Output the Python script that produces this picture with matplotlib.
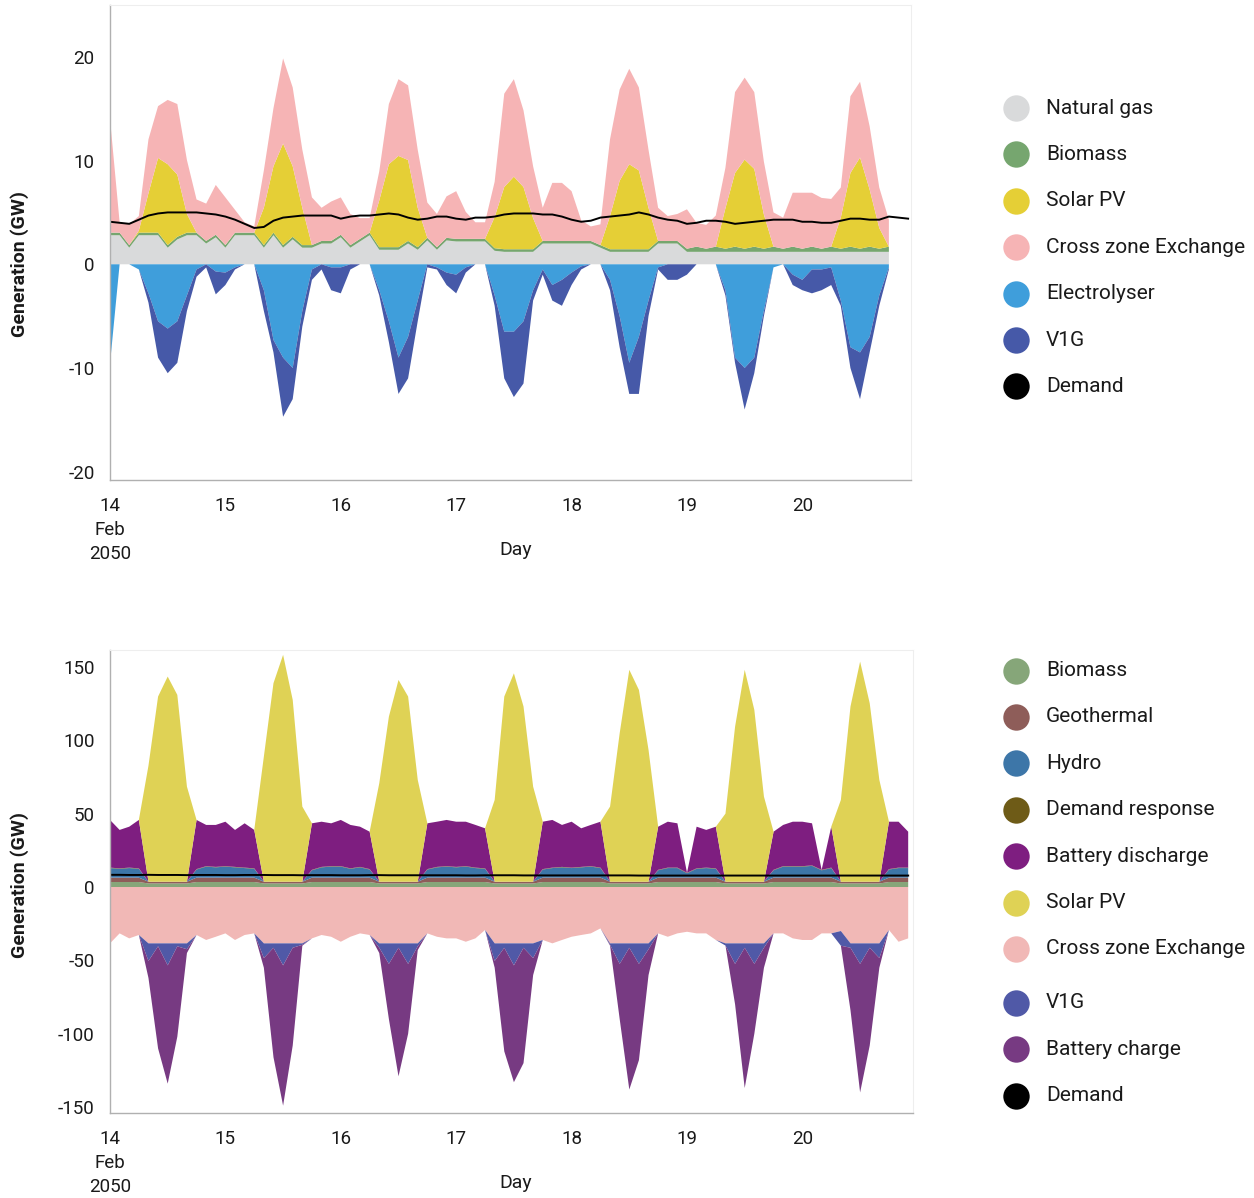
import numpy as np
import matplotlib
matplotlib.use("Agg")
import matplotlib.pyplot as plt
from matplotlib.lines import Line2D

plt.rcParams['font.family'] = ['Roboto', 'DejaVu Sans']
plt.rcParams['axes.unicode_minus'] = False

# ---------------- DATA (hours since 14 Feb 2050 00:00) ----------------
day_ticks = [0, 24, 48, 72, 96, 120, 144]
day_labels = ["14\nFeb\n2050", "15", "16", "17", "18", "19", "20"]

# ---- Top panel ----
hours_top = list(range(0, 163, 2))
hours_demand = list(range(0, 167, 2))

gas_top = [2.8, 2.8, 1.6, 2.8, 2.8, 2.8, 1.6, 2.4, 2.8, 2.8,
           2.0, 2.6, 1.6, 2.8, 2.8, 2.8, 1.6, 2.8, 1.6, 2.4,
           1.6, 1.6, 2.0, 2.0, 2.6, 1.6, 2.2, 2.8, 1.4, 1.4,
           1.4, 2.0, 1.4, 2.3, 1.4, 2.3, 2.2, 2.2, 2.2, 2.2,
           1.3, 1.2, 1.2, 1.2, 1.2, 2.0, 2.0, 2.0, 2.0, 2.0,
           2.0, 1.6, 1.2, 1.2, 1.2, 1.2, 1.2, 2.0, 2.0, 2.0,
           1.2, 1.2, 1.2, 1.2, 1.2, 1.2, 1.2, 1.2, 1.2, 1.2,
           1.2, 1.2, 1.2, 1.2, 1.2, 1.2, 1.2, 1.2, 1.2, 1.2,
           1.2, 1.2]
biomass_top = [0.25, 0.25, 0.25, 0.25, 0.25, 0.25, 0.25, 0.25, 0.25, 0.25,
               0.25, 0.25, 0.25, 0.25, 0.25, 0.25, 0.25, 0.25, 0.25, 0.25,
               0.25, 0.25, 0.25, 0.25, 0.25, 0.25, 0.25, 0.25, 0.25, 0.25,
               0.25, 0.25, 0.25, 0.25, 0.25, 0.25, 0.25, 0.25, 0.25, 0.25,
               0.25, 0.25, 0.25, 0.25, 0.25, 0.25, 0.25, 0.25, 0.25, 0.25,
               0.25, 0.25, 0.25, 0.25, 0.25, 0.25, 0.25, 0.25, 0.25, 0.25,
               0.3, 0.5, 0.3, 0.5, 0.3, 0.5, 0.3, 0.5, 0.3, 0.5,
               0.3, 0.5, 0.3, 0.5, 0.3, 0.5, 0.3, 0.5, 0.3, 0.5,
               0.3, 0.5]
solar_top = [0, 0, 0, 0.2, 3.8, 7.2, 7.8, 6.0, 1.8, 0,
             0, 0, 0, 0, 0, 0, 3.6, 6.4, 9.8, 6.8,
             3.6, 0, 0, 0, 0, 0, 0, 0, 4.5, 8.0,
             8.8, 7.8, 3.8, 0, 0, 0, 0, 0, 0, 0,
             3.0, 6.0, 7.0, 6.0, 3.0, 0, 0, 0, 0, 0,
             0, 0, 3.2, 6.6, 8.2, 7.6, 4.0, 0, 0, 0,
             0, 0, 0, 0, 3.9, 7.1, 8.6, 7.5, 3.3, 0,
             0, 0, 0, 0, 0, 0, 3.0, 7.1, 8.8, 5.5,
             2.0, 0]
cross_top = [11.0, 1.0, 2.0, 1.4, 5.2, 5.0, 6.2, 6.8, 5.2, 3.2,
             3.6, 4.8, 4.6, 2.2, 1.0, 0.6, 3.6, 5.6, 8.2, 7.6,
             5.6, 4.6, 3.2, 3.8, 3.6, 3.0, 2.0, 1.4, 2.8, 5.8,
             7.4, 7.2, 5.6, 3.4, 3.2, 4.0, 4.6, 2.6, 1.6, 1.6,
             3.4, 9.0, 9.4, 7.4, 5.0, 3.2, 5.6, 5.6, 4.8, 2.0,
             1.4, 2.0, 7.4, 8.8, 9.2, 8.0, 5.6, 3.2, 2.4, 2.6,
             3.8, 2.3, 2.3, 3.0, 3.9, 7.8, 7.9, 7.4, 5.1, 3.3,
             3.0, 5.2, 5.4, 5.2, 4.9, 4.6, 2.9, 7.4, 7.3, 6.1,
             3.9, 2.6]
electrolyser_top = [-9.6, 0, 0, -0.5, -2.8, -5.5, -6.2, -5.5, -3.0, -0.5,
                    0, -0.7, -0.8, -0.3, 0, 0, -2.5, -7.3, -9.0, -10.0,
                    -4.5, -0.5, 0, -0.3, -0.3, 0, 0, 0, -2.5, -5.5,
                    -9.0, -7.0, -3.5, 0, -0.3, -0.8, -1.0, -0.3, 0, 0,
                    -3.0, -6.5, -6.5, -5.5, -2.5, -0.5, -2.0, -1.5, -0.8, -0.2,
                    0, 0, -1.5, -5.0, -9.5, -7.0, -3.5, -0.3, 0, 0,
                    0, 0, 0, 0, -2.5, -9.0, -10.0, -9.0, -4.5, -0.3,
                    0, -1.0, -1.5, -0.5, -0.5, -0.3, -3.5, -8.0, -8.5, -7.0,
                    -3.0, -0.3]
v1g_top = [0, 0, 0, 0, -0.9, -3.5, -4.3, -4.0, -1.5, -0.7,
           -0.3, -2.2, -1.2, -0.2, 0, 0, -2.0, -1.2, -5.7, -3.0,
           -1.5, -1.0, -0.5, -2.2, -2.5, -0.5, 0, 0, -0.5, -2.0,
           -3.5, -4.0, -2.0, -0.3, -0.2, -1.2, -1.8, -0.5, 0, 0,
           -1.0, -4.5, -6.3, -6.0, -1.0, -0.5, -1.5, -2.5, -1.2, -0.3,
           0, 0, -1.0, -3.0, -3.0, -5.5, -1.5, -0.2, -1.5, -1.5,
           -1.0, 0, 0, 0, -0.5, -0.5, -4.0, -1.5, -0.5, 0,
           0, -1.0, -1.0, -2.3, -2.0, -1.7, -0.5, -2.0, -4.5, -1.5,
           -1.0, -0.2]
demand_top = [4.1, 4.0, 3.9, 4.3, 4.7, 4.9, 5.0, 5.0, 5.0, 5.0,
              4.9, 4.8, 4.6, 4.3, 3.9, 3.5, 3.6, 4.2, 4.5, 4.6,
              4.7, 4.7, 4.7, 4.7, 4.4, 4.6, 4.7, 4.7, 4.8, 4.9,
              4.8, 4.5, 4.3, 4.4, 4.6, 4.6, 4.4, 4.3, 4.5, 4.5,
              4.6, 4.8, 4.9, 4.9, 4.9, 4.8, 4.8, 4.6, 4.3, 4.1,
              4.2, 4.5, 4.6, 4.7, 4.8, 5.0, 4.8, 4.5, 4.3, 4.2,
              3.9, 4.0, 4.2, 4.2, 4.1, 3.9, 4.0, 4.1, 4.2, 4.3,
              4.3, 4.3, 4.1, 4.1, 4.0, 4.0, 4.2, 4.4, 4.4, 4.3,
              4.3, 4.6, 4.5, 4.4]

# ---- Bottom panel ----
hours_bot = list(range(0, 167, 2))

biomass_bot = [3.4, 3.4, 3.4, 3.4, 2.4, 2.4, 2.4, 2.4, 2.4, 3.4,
               3.4, 3.4, 3.4, 3.4, 3.4, 3.4, 2.4, 2.4, 2.4, 2.4,
               2.4, 3.4, 3.4, 3.4, 3.4, 3.4, 3.4, 3.4, 2.4, 2.4,
               2.4, 2.4, 2.4, 3.4, 3.4, 3.4, 3.4, 3.4, 3.4, 3.4,
               2.4, 2.4, 2.4, 2.4, 2.4, 3.4, 3.4, 3.4, 3.4, 3.4,
               3.4, 3.4, 2.4, 2.4, 2.4, 2.4, 2.4, 3.4, 3.4, 3.4,
               3.4, 3.4, 3.4, 3.4, 2.4, 2.4, 2.4, 2.4, 2.4, 3.4,
               3.4, 3.4, 3.4, 3.4, 3.4, 3.4, 2.4, 2.4, 2.4, 2.4,
               2.4, 3.4, 3.4, 3.4]
geothermal_bot = [3.0, 3.0, 3.0, 3.0, 1.2, 1.2, 1.2, 1.2, 1.2, 3.0,
                  3.0, 3.0, 3.0, 3.0, 3.0, 3.0, 1.2, 1.2, 1.2, 1.2,
                  1.2, 3.0, 3.0, 3.0, 3.0, 3.0, 3.0, 3.0, 1.2, 1.2,
                  1.2, 1.2, 1.2, 3.0, 3.0, 3.0, 3.0, 3.0, 3.0, 3.0,
                  1.2, 1.2, 1.2, 1.2, 1.2, 3.0, 3.0, 3.0, 3.0, 3.0,
                  3.0, 3.0, 1.2, 1.2, 1.2, 1.2, 1.2, 3.0, 3.0, 3.0,
                  3.0, 3.0, 3.0, 3.0, 1.2, 1.2, 1.2, 1.2, 1.2, 3.0,
                  3.0, 3.0, 3.0, 3.0, 3.0, 3.0, 1.2, 1.2, 1.2, 1.2,
                  1.2, 3.0, 3.0, 3.0]
hydro_bot = [6.5, 6.0, 6.5, 6.0, 0, 0, 0, 0, 0, 5.5,
             7.5, 7.0, 7.5, 7.0, 6.5, 6.0, 0, 0, 0, 0,
             0, 5.0, 7.0, 7.5, 7.5, 6.0, 7.0, 5.5, 0, 0,
             0, 0, 0, 5.5, 7.0, 7.5, 7.0, 7.5, 6.5, 6.0,
             0, 0, 0, 0, 0, 5.5, 6.5, 7.0, 6.5, 7.0,
             7.5, 6.5, 0, 0, 0, 0, 0, 5.0, 6.5, 6.5,
             3.0, 6.0, 6.5, 6.0, 0, 0, 0, 0, 0, 5.0,
             7.5, 7.5, 7.5, 8.0, 5.0, 6.5, 0, 0, 0, 0,
             0, 5.5, 6.5, 6.5]
demand_resp_bot = [0.3, 0.3, 0.3, 0.3, 0, 0, 0, 0, 0, 0.3,
                   0.3, 0.3, 0.3, 0.3, 0.3, 0.3, 0, 0, 0, 0,
                   0, 0.3, 0.3, 0.3, 0.3, 0.3, 0.3, 0.3, 0, 0,
                   0, 0, 0, 0.3, 0.3, 0.3, 0.3, 0.3, 0.3, 0.3,
                   0, 0, 0, 0, 0, 0.3, 0.3, 0.3, 0.3, 0.3,
                   0.3, 0.3, 0, 0, 0, 0, 0, 0.3, 0.3, 0.3,
                   0.3, 0.3, 0.3, 0.3, 0, 0, 0, 0, 0, 0.3,
                   0.3, 0.3, 0.3, 0.3, 0.3, 0.3, 0, 0, 0, 0,
                   0, 0.3, 0.3, 0.3]
discharge_bot = [32.5, 26.2, 27.9, 33.0, 0, 0, 0, 0, 0, 33.5,
                 28.1, 28.6, 30.3, 25.2, 30.2, 26.2, 0, 0, 0, 0,
                 0, 31.7, 30.8, 29.2, 31.5, 29.6, 27.4, 25.5, 0, 0,
                 0, 0, 0, 31.2, 30.8, 31.5, 30.8, 30.3, 29.1, 27.3,
                 0, 0, 0, 0, 0, 32.3, 32.5, 28.6, 31.3, 26.3,
                 28.1, 31.3, 0, 0, 0, 0, 0, 29.4, 31.3, 30.2,
                 0, 28.4, 25.7, 28.4, 0, 0, 0, 0, 0, 26.0,
                 28.1, 30.3, 30.3, 28.7, 0, 27.9, 0, 0, 0, 0,
                 0, 32.3, 31.3, 24.5]
solar_bot = [0, 0, 0, 0, 79.1, 126.2, 139.8, 127.3, 64.8, 0,
             0, 0, 0, 0, 0, 0, 85.3, 135.3, 154.6, 123.9,
             51.2, 0, 0, 0, 0, 0, 0, 0, 67.1, 112.5,
             137.5, 126.2, 69.4, 0, 0, 0, 0, 0, 0, 0,
             55.7, 126.2, 142.0, 119.4, 64.8, 0, 0, 0, 0, 0,
             0, 0, 51.2, 101.2, 144.4, 130.7, 89.8, 0, 0, 0,
             0, 0, 0, 0, 46.4, 105.7, 144.4, 117.1, 58.0, 0,
             0, 0, 0, 0, 0, 0, 55.7, 119.4, 150.0, 121.6,
             69.4, 0, 0, 0]
cross_bot = [-38.4, -31.6, -35.0, -32.7, -38.4, -38.4, -38.4, -38.4, -38.4, -32.7,
             -36.1, -33.9, -31.6, -36.1, -32.7, -31.6, -38.4, -38.4, -38.4, -38.4,
             -38.4, -35.0, -32.7, -33.9, -37.3, -33.9, -31.6, -32.7, -38.4, -38.4,
             -38.4, -38.4, -38.4, -31.6, -33.9, -35.0, -35.0, -37.3, -35.0, -29.3,
             -38.4, -38.4, -38.4, -38.4, -38.4, -36.1, -38.4, -36.1, -33.9, -32.7,
             -31.6, -28.2, -38.4, -38.4, -38.4, -38.4, -38.4, -31.6, -33.9, -31.6,
             -30.5, -31.6, -31.6, -36.1, -38.4, -38.4, -38.4, -38.4, -38.4, -31.6,
             -31.6, -35.0, -36.1, -36.1, -31.6, -31.6, -30.0, -38.4, -38.4, -38.4,
             -38.4, -29.3, -37.3, -35.0]
v1g_bot = [0, 0, 0, 0, -12, -2, -15, -2, -4, 0,
           0, 0, 0, 0, 0, 0, -10, -3, -15, -3,
           -1, 0, 0, 0, 0, 0, 0, 0, -3, -14,
           -3, -14, -2, 0, 0, 0, 0, 0, 0, 0,
           -12, -3, -15, -3, -10, 0, 0, 0, 0, 0,
           0, 0, -1, -14, -3, -14, -4, 0, 0, 0,
           0, 0, 0, 0, -1.5, -14, -3, -14, -3, 0,
           0, 0, 0, 0, 0, 0, -10, -3, -14, -3,
           -10, 0, 0, 0]
charge_bot = [0, 0, 0, 0, -11.6, -69.6, -80.6, -61.6, -2.6, 0,
              0, 0, 0, 0, 0, 0, -6.6, -74.6, -95.6, -66.6,
              -0.6, 0, 0, 0, 0, 0, 0, 0, -3.6, -37.6,
              -87.6, -47.6, -2.6, 0, 0, 0, 0, 0, 0, 0,
              -4.6, -70.6, -79.6, -78.6, -11.6, 0, 0, 0, 0, 0,
              0, 0, -0.6, -37.6, -96.6, -65.6, -17.6, 0, 0, 0,
              0, 0, 0, 0, 0, -27.6, -95.6, -47.6, -13.6, 0,
              0, 0, 0, 0, 0, 0, 0, -42.6, -87.6, -66.6,
              -6.6, 0, 0, 0]
demand_bot = [8.3, 8.3, 8.2, 8.2, 8.3, 8.2, 8.2, 8.2, 8.1, 8.2,
              8.2, 8.2, 8.1, 8.1, 8.2, 8.2, 8.2, 8.1, 8.1, 8.1,
              8.0, 8.1, 8.1, 8.1, 8.0, 8.0, 8.0, 8.1, 8.1, 8.0,
              8.0, 8.0, 8.0, 8.0, 8.0, 8.0, 8.0, 7.9, 7.9, 8.0,
              8.0, 8.0, 8.0, 7.9, 7.9, 7.9, 7.9, 7.9, 7.9, 7.9,
              7.9, 7.9, 7.9, 7.9, 7.9, 7.8, 7.8, 7.8, 7.8, 7.8,
              7.8, 7.8, 7.8, 7.8, 7.8, 7.8, 7.8, 7.8, 7.8, 7.8,
              7.8, 7.8, 7.8, 7.8, 7.8, 7.8, 7.8, 7.8, 7.8, 7.8,
              7.8, 7.8, 7.8, 7.8]

# ---------------- STYLE ----------------
top_labels = ["Natural gas", "Biomass", "Solar PV", "Cross zone Exchange",
              "Electrolyser", "V1G", "Demand"]
top_colors = ["#d9dadb", "#76a66f", "#e5cf36", "#f6b4b5", "#3f9edb", "#4659a8", "#000000"]
bot_labels = ["Biomass", "Geothermal", "Hydro", "Demand response", "Battery discharge",
              "Solar PV", "Cross zone Exchange", "V1G", "Battery charge", "Demand"]
bot_colors = ["#86a679", "#8e5d59", "#3d76a8", "#6e5b17", "#7e1e80",
              "#dfd255", "#f1b8b6", "#5059a7", "#773a82", "#000000"]

W, H = 1254, 1198
fig = plt.figure(figsize=(W / 100, H / 100), dpi=100)


def axes_px(l, t, r, b):
    return fig.add_axes([l / W, 1 - b / H, (r - l) / W, (b - t) / H])


def style_axes(ax):
    for s in ["left", "bottom"]:
        ax.spines[s].set_color("#b0b0b0")
        ax.spines[s].set_linewidth(1.0)
    for s in ["top", "right"]:
        ax.spines[s].set_color("#eeeeee")
        ax.spines[s].set_linewidth(0.8)
    ax.tick_params(axis="both", length=0, labelsize=13.5, colors="#1a1a1a")
    ax.tick_params(axis="y", pad=11)
    ax.tick_params(axis="x", pad=12)
    ax.set_xticks(day_ticks)
    ax.set_xticklabels(day_labels)
    for lbl in ax.get_xticklabels():
        lbl.set_linespacing(1.45)
        lbl.set_verticalalignment("top")


# ---- top axes ----
ax1 = axes_px(110, 5, 911, 480)
ax1.stackplot(hours_top, gas_top, biomass_top, solar_top, cross_top,
              colors=top_colors[:4], linewidth=0)
ax1.stackplot(hours_top, electrolyser_top, v1g_top,
              colors=top_colors[4:6], linewidth=0)
ax1.plot(hours_demand, demand_top, color="black", lw=1.4)
ax1.set_xlim(0, 166.6)
ax1.set_ylim(-20.8, 25)
ax1.set_yticks([-20, -10, 0, 10, 20])
style_axes(ax1)

# ---- bottom axes ----
ax2 = axes_px(110, 650, 913, 1113)
ax2.stackplot(hours_bot, biomass_bot, geothermal_bot, hydro_bot, demand_resp_bot,
              discharge_bot, solar_bot, colors=bot_colors[:6], linewidth=0)
ax2.stackplot(hours_bot, cross_bot, v1g_bot, charge_bot,
              colors=bot_colors[6:9], linewidth=0)
ax2.plot(hours_bot, demand_bot, color="black", lw=1.4)
ax2.set_xlim(0, 167)
ax2.set_ylim(-154, 161.5)
ax2.set_yticks([-150, -100, -50, 0, 50, 100, 150])
style_axes(ax2)

# ---- axis titles ----
for yc in (264, 885):
    fig.text(20 / W, 1 - yc / H, "Generation (GW)", rotation=90, ha="center",
             va="center", fontsize=14, fontweight="semibold", color="#1a1a1a")
for yc in (550, 1183):
    fig.text(516 / W, 1 - yc / H, "Day", ha="center", va="center",
             fontsize=14, color="#1a1a1a")

# ---- legends (circle + label) ----
def draw_legend(labels, colors, ys):
    for lab, col, yc in zip(labels, colors, ys):
        fig.add_artist(Line2D([1016 / W], [1 - yc / H], marker="o", markersize=19,
                              markerfacecolor=col, markeredgewidth=0, linestyle="",
                              transform=fig.transFigure))
        fig.text(1046 / W, 1 - yc / H, lab, ha="left", va="center",
                 fontsize=15, color="#1a1a1a")

top_leg_y = [108 + 46.4 * i for i in range(len(top_labels))]
bot_leg_y = [670.5 + 46.4 * i + (7.5 if i >= 7 else 0) for i in range(len(bot_labels))]
draw_legend(top_labels, top_colors, top_leg_y)
draw_legend(bot_labels, bot_colors, bot_leg_y)

fig.savefig("out.png", dpi=100)
